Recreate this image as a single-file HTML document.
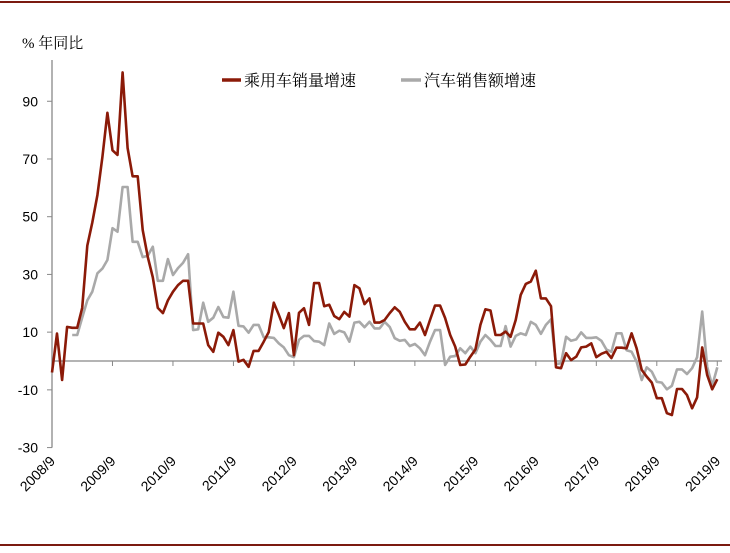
<!DOCTYPE html>
<html><head><meta charset="utf-8"><style>
body{margin:0;background:#fff}
svg text{font-family:"Liberation Sans","Noto Sans CJK SC",sans-serif}
svg text.cjk{font-family:"Liberation Serif","Noto Serif CJK SC",serif}
</style></head><body>
<svg id="chart" width="730" height="548" viewBox="0 0 730 548" xmlns="http://www.w3.org/2000/svg">
<line x1="0" y1="2" x2="730" y2="2" stroke="#7b1a10" stroke-width="2"/>
<line x1="0" y1="545" x2="730" y2="545" stroke="#7b1a10" stroke-width="2"/>
<text class="cjk" x="22" y="48" font-size="15" fill="#000">% 年同比</text>
<g id="axes"></g>
<g id="series"></g>
<g>
<g>
<line x1="222" y1="80" x2="241" y2="80" stroke="#8b1a08" stroke-width="3.5"/>
<text class="cjk" x="244" y="86" font-size="16">乘用车销量增速</text></g>
<g>
<line x1="401" y1="80" x2="421" y2="80" stroke="#a9a9a9" stroke-width="3.5"/>
<text class="cjk" x="424" y="86" font-size="16">汽车销售额增速</text></g>
</g>
</svg>
<script>
const xLabels=["2008/9","2009/9","2010/9","2011/9","2012/9","2013/9","2014/9","2015/9","2016/9","2017/9","2018/9","2019/9"];
const yTicks=[-30,-10,10,30,50,70,90];
const passengerCar=[-4,9.5,-6.6,11.8,11.5,11.5,18.4,40,48,57.5,70.7,86,73,71.4,100,73.8,64,64,45.4,36,29,18.4,16.6,21,24,26.3,27.8,27.8,13,13,13,5.5,3.2,9.8,8.4,5.5,10.7,-0.2,0.4,-2,3.5,3.5,6.7,10,20.2,16,11.4,16.6,2,16.7,18.3,12.5,27,27,19,19.5,15.6,14.5,17,15.4,26.3,25.2,19.7,21.7,13.3,13.3,14.2,16.6,18.6,17,13.6,11,11,13.3,9,14.2,19.2,19.2,14.9,9,5,-1.4,-1.2,1.5,4,12.5,17.9,17.5,9,9,10.2,8.4,14.2,22.9,26.7,27.5,31.3,21.7,21.7,19,-2.2,-2.5,2.7,0.3,1.5,4.7,5,6.1,1.3,2.5,3.2,1,4.6,4.6,4.4,9.6,4.4,-3.1,-5.4,-7.5,-12.9,-12.9,-18.1,-18.7,-9.7,-9.7,-11.8,-16.4,-12.6,4.7,-4.9,-9.8,-6.3];
const autoSales=[null,null,null,null,9,9,15,21,24,30.4,32,35,46,44.8,60.3,60.3,41.3,41.3,36,36.5,39.6,27.8,27.8,35.3,29.8,32.2,34,37,10.7,11,20.2,13.6,15,18.7,15.2,15,24,12.2,12,9.8,12.5,12.5,8.2,8.2,8,6.1,4.7,2,1.3,7.3,8.7,8.7,6.9,6.7,5.5,13,9.4,10.5,9.9,6.7,13.3,13.6,11.7,13.6,11.3,11.3,13.6,11.8,7.9,7,7.3,5.2,5.9,4.4,2,6.7,10.7,10.7,-1.4,1.5,1.7,4.4,2.7,5,2.7,6.7,9,7.3,5.2,5.2,12.1,5,8.7,9.6,9,13.6,12.5,9.4,12.5,14.4,-1,-0.8,8.4,7,7.5,9.9,8,8,8.2,7,4,3.2,9.6,9.6,3.7,3.2,-0.2,-6.6,-2.2,-3.7,-7.2,-7.5,-9.8,-8.6,-2.9,-2.9,-4.5,-2.5,1.3,17.1,-2,-8.6,-2.2];
const NS="http://www.w3.org/2000/svg";
const x0=52,pxPerMonth=5.04;
function xs(i){return x0+i*pxPerMonth;}
function ys(v){return 361-v*2.886;}
const axes=document.getElementById('axes'),series=document.getElementById('series');
function mk(tag,attrs,parent){const e=document.createElementNS(NS,tag);for(const k in attrs)e.setAttribute(k,attrs[k]);parent.appendChild(e);return e;}
const yAxis=mk('line',{x1:x0,y1:60,x2:x0,y2:ys(-30),stroke:'#888','stroke-width':1.3},axes);


yTicks.forEach(v=>{
 const t=mk('line',{x1:x0-5,y1:ys(v),x2:x0,y2:ys(v),stroke:'#888'},axes);
 
 
 const l=mk('text',{x:x0-14,y:ys(v)+5,'text-anchor':'end','font-size':14},axes);
 l.textContent=v;
 
 
});
const xAxis=mk('line',{x1:x0,y1:ys(0),x2:722,y2:ys(0),stroke:'#888','stroke-width':1.3},axes);


xLabels.forEach((s,k)=>{
 const x=xs(k*12);
 const t=mk('line',{x1:x,y1:ys(0),x2:x,y2:ys(0)+5,stroke:'#888'},axes);
 
 
 const l=mk('text',{x:x+4,y:462,'text-anchor':'end','font-size':14,transform:`rotate(-45 ${x+4} 462)`},axes);
 l.textContent=s;
 
 
});
function drawLine(arr,color,name){
 let d='',pen=false;
 arr.forEach((v,i)=>{if(v===null){pen=false;return;}d+=(pen?'L':'M')+xs(i).toFixed(1)+','+ys(v).toFixed(1);pen=true;});
 const p=mk('path',{d:d,fill:'none',stroke:color,'stroke-width':2.6,'stroke-linejoin':'round'},series);
 
 
}
drawLine(autoSales,'#a9a9a9','auto-sales-line');
drawLine(passengerCar,'#8b1a08','passenger-car-line');
</script>
</body></html>
